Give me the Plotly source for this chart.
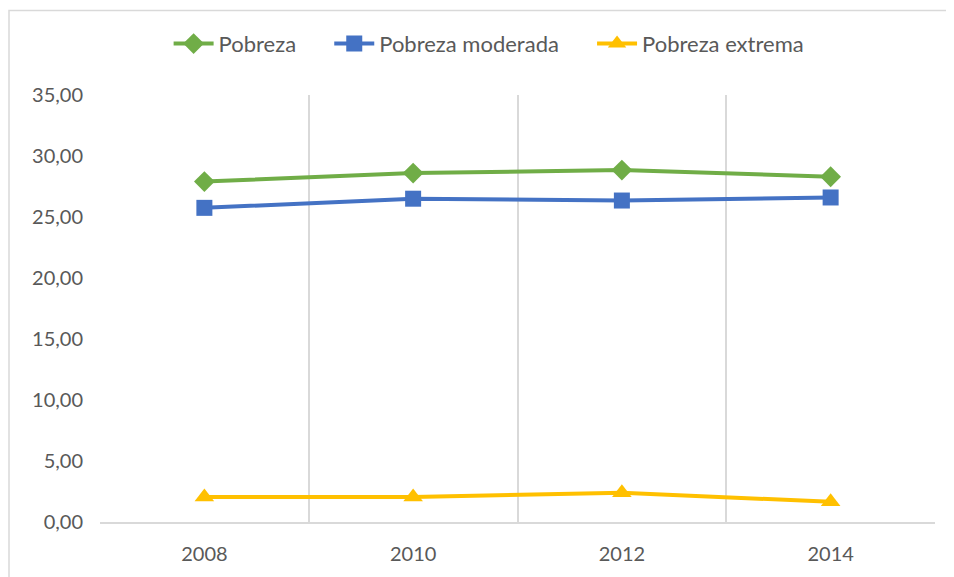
import plotly.graph_objects as go

years = ["2008", "2010", "2012", "2014"]
pobreza = [27.9, 28.6, 28.85, 28.3]
pobreza_moderada = [25.75, 26.5, 26.35, 26.6]
pobreza_extrema = [2.05, 2.05, 2.4, 1.65]
y_ticks = [0, 5, 10, 15, 20, 25, 30, 35]

font_family = "Lato, 'Open Sans', sans-serif"
text_color = "#595959"

W, H = 946, 569
L, R, T, B = 92, 19, 87, 48
pw, ph = W - L - R, H - T - B
pad = "\u00a0" * 5

fig = go.Figure()
fig.add_trace(go.Scatter(x=years, y=pobreza, name="Pobreza" + pad, mode="lines+markers",
                         line=dict(color="#70AD47", width=4),
                         marker=dict(symbol="diamond", size=16, color="#70AD47")))
fig.add_trace(go.Scatter(x=years, y=pobreza_moderada, name="Pobreza moderada" + pad, mode="lines+markers",
                         line=dict(color="#4472C4", width=4),
                         marker=dict(symbol="square", size=16, color="#4472C4")))
fig.add_trace(go.Scatter(x=years, y=pobreza_extrema, name="Pobreza extrema", mode="lines+markers",
                         line=dict(color="#FFC000", width=4),
                         marker=dict(symbol="triangle-up", size=17, color="#FFC000")))

fig.update_layout(
    width=W, height=H,
    margin=dict(l=L, r=R, t=T, b=B),
    paper_bgcolor="white", plot_bgcolor="white",
    separators=",.",
    font=dict(family=font_family, size=19, color=text_color),
    showlegend=True,
    legend=dict(orientation="h", x=0.466, xanchor="center", y=1.12, yanchor="middle",
                font=dict(size=22, color=text_color), itemwidth=40),
    xaxis=dict(type="category", tickson="boundaries", showgrid=True, gridcolor="#D9D9D9",
               gridwidth=1.5, showline=True, linecolor="#D9D9D9", linewidth=1.5,
               ticks="", ticklabelstandoff=13, range=[-0.5, 3.5],
               tickfont=dict(size=20, color=text_color), zeroline=False),
    yaxis=dict(range=[0, 35], tickvals=y_ticks, tickformat=".2f", showgrid=False,
               zeroline=False, showline=False, ticks="", ticklabelstandoff=16,
               tickfont=dict(size=20, color=text_color)),
    shapes=[dict(type="rect", xref="paper", yref="paper",
                 x0=(1 - L) / pw, x1=(943 - L) / pw,
                 y0=-1.0, y1=(H - B - 1) / ph,
                 line=dict(color="#D9D9D9", width=1.5), fillcolor="rgba(0,0,0,0)", layer="below")],
)

fig.write_html("out.html")
